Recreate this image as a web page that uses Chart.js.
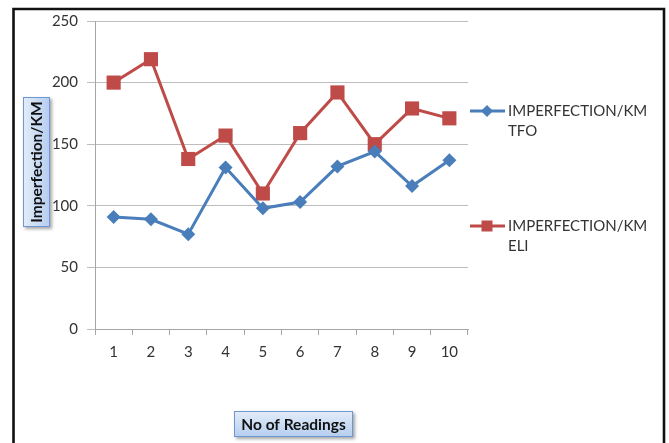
<!DOCTYPE html>
<html>
<head>
<meta charset="utf-8">
<script src="https://cdn.jsdelivr.net/npm/chart.js@4.4.0/dist/chart.umd.min.js"></script>
<style>
    html, body { margin: 0; padding: 0; background: #ffffff; }
    #contenedor { position: relative; width: 669px; height: 443px; }
</style>
</head>
<body>
<div id="contenedor"><canvas id="graficoLecturas"></canvas></div>
<script>
// Datos
const lecturas = ['1', '2', '3', '4', '5', '6', '7', '8', '9', '10'];
const imperfeccionTFO = [91, 89, 77, 131, 98, 103, 132, 144, 116, 137];
const imperfeccionELI = [200, 219, 138, 157, 110, 159, 192, 150, 179, 171];
const ticksY = [0, 50, 100, 150, 200, 250];
const nombresSeries = [['IMPERFECTION/KM', 'TFO'], ['IMPERFECTION/KM', 'ELI']];
const tituloY = 'Imperfection/KM';
const tituloX = 'No of Readings';

const colores = {
    tfo: '#4a7ebb',
    eli: '#be4b48',
    rejilla: '#bdbdbd',
    eje: '#a6a6a6',
    texto: '#333333'
};
const fuente = 'Lato, "Open Sans", sans-serif';

// Caja azul con sombra para los títulos de ejes
function cajaTitulo(ctx, x, y, w, h, vertical) {
    ctx.save();
    const grad = vertical
        ? ctx.createLinearGradient(x, 0, x + w, 0)
        : ctx.createLinearGradient(0, y, 0, y + h);
    grad.addColorStop(0, '#e4edf9');
    grad.addColorStop(1, '#b4cdef');
    ctx.shadowColor = 'rgba(0,0,0,0.35)';
    ctx.shadowBlur = 3;
    ctx.shadowOffsetX = 2;
    ctx.shadowOffsetY = 2;
    ctx.fillStyle = grad;
    ctx.fillRect(x, y, w, h);
    ctx.shadowColor = 'transparent';
    ctx.strokeStyle = '#6f97cf';
    ctx.lineWidth = 1;
    ctx.strokeRect(x + 0.5, y + 0.5, w - 1, h - 1);
    ctx.restore();
}

function marcador(ctx, estilo, x, y, r, color) {
    ctx.save();
    ctx.fillStyle = color;
    ctx.beginPath();
    if (estilo === 'rectRot') {
        ctx.moveTo(x, y - r);
        ctx.lineTo(x + r, y);
        ctx.lineTo(x, y + r);
        ctx.lineTo(x - r, y);
    } else {
        ctx.rect(x - r, y - r, 2 * r, 2 * r);
    }
    ctx.closePath();
    ctx.fill();
    ctx.restore();
}

const decoracion = {
    id: 'decoracion',
    afterDraw: (chart) => {
        const ctx = chart.ctx;
        ctx.save();

        // Marco exterior
        ctx.strokeStyle = '#111111';
        ctx.lineWidth = 2.6;
        ctx.beginPath();
        ctx.moveTo(13.5, 460);
        ctx.lineTo(13.5, 9);
        ctx.lineTo(664, 9);
        ctx.lineTo(664, 460);
        ctx.stroke();

        // Título eje Y
        cajaTitulo(ctx, 23, 97, 27, 130, true);
        ctx.save();
        ctx.translate(37, 162);
        ctx.rotate(-Math.PI / 2);
        ctx.font = 'bold 15.5px ' + fuente;
        ctx.fillStyle = '#111111';
        ctx.textAlign = 'center';
        ctx.textBaseline = 'middle';
        ctx.fillText(tituloY, 0, 0);
        ctx.restore();

        // Título eje X
        cajaTitulo(ctx, 234, 411, 119, 26, false);
        ctx.font = 'bold 15.5px ' + fuente;
        ctx.fillStyle = '#111111';
        ctx.textAlign = 'center';
        ctx.textBaseline = 'middle';
        ctx.fillText(tituloX, 293.5, 424.5);

        // Leyenda
        const filasY = [111, 226];
        chart.data.datasets.forEach((ds, i) => {
            const y = filasY[i];
            ctx.strokeStyle = ds.borderColor;
            ctx.lineWidth = 3;
            ctx.beginPath();
            ctx.moveTo(470, y);
            ctx.lineTo(505, y);
            ctx.stroke();
            marcador(ctx, ds.pointStyle, 487, y, ds.pointStyle === 'rect' ? 5.5 : 6, ds.borderColor);
            ctx.font = '15px ' + fuente;
            ctx.fillStyle = colores.texto;
            ctx.textAlign = 'left';
            ctx.textBaseline = 'middle';
            nombresSeries[i].forEach((linea, j) => {
                ctx.fillText(linea, 508, y + j * 20.5);
            });
        });

        ctx.restore();
    }
};

new Chart(document.getElementById('graficoLecturas'), {
    type: 'line',
    data: {
        labels: lecturas,
        datasets: [
            {
                label: nombresSeries[0].join(' '),
                data: imperfeccionTFO,
                borderColor: colores.tfo,
                backgroundColor: colores.tfo,
                pointBackgroundColor: colores.tfo,
                pointBorderColor: colores.tfo,
                pointStyle: 'rectRot',
                pointRadius: 7,
                pointBorderWidth: 0,
                borderWidth: 3,
                tension: 0
            },
            {
                label: nombresSeries[1].join(' '),
                data: imperfeccionELI,
                borderColor: colores.eli,
                backgroundColor: colores.eli,
                pointBackgroundColor: colores.eli,
                pointBorderColor: colores.eli,
                pointStyle: 'rect',
                pointRadius: 10,
                pointBorderWidth: 0,
                borderWidth: 3,
                tension: 0
            }
        ]
    },
    options: {
        responsive: true,
        maintainAspectRatio: false,
        animation: false,
        layout: { padding: { left: 0, top: 21, right: 201, bottom: 0 } },
        plugins: {
            legend: { display: false },
            tooltip: { enabled: false },
            title: { display: false }
        },
        scales: {
            x: {
                type: 'category',
                offset: true,
                afterFit: (s) => { s.height = 114; },
                grid: {
                    offset: true,
                    drawOnChartArea: false,
                    tickLength: 6,
                    color: colores.eje
                },
                border: { color: colores.eje, width: 1 },
                ticks: {
                    padding: 8,
                    color: colores.texto,
                    font: { family: fuente, size: 15 }
                }
            },
            y: {
                min: 0,
                max: 250,
                afterFit: (s) => { s.width = 95; },
                afterBuildTicks: (s) => { s.ticks = ticksY.map(v => ({ value: v })); },
                grid: {
                    color: colores.rejilla,
                    tickLength: 8,
                    lineWidth: 1
                },
                border: { color: colores.eje, width: 1 },
                ticks: {
                    padding: 9,
                    color: colores.texto,
                    font: { family: fuente, size: 15 }
                }
            }
        }
    },
    plugins: [decoracion]
});
</script>
</body>
</html>
